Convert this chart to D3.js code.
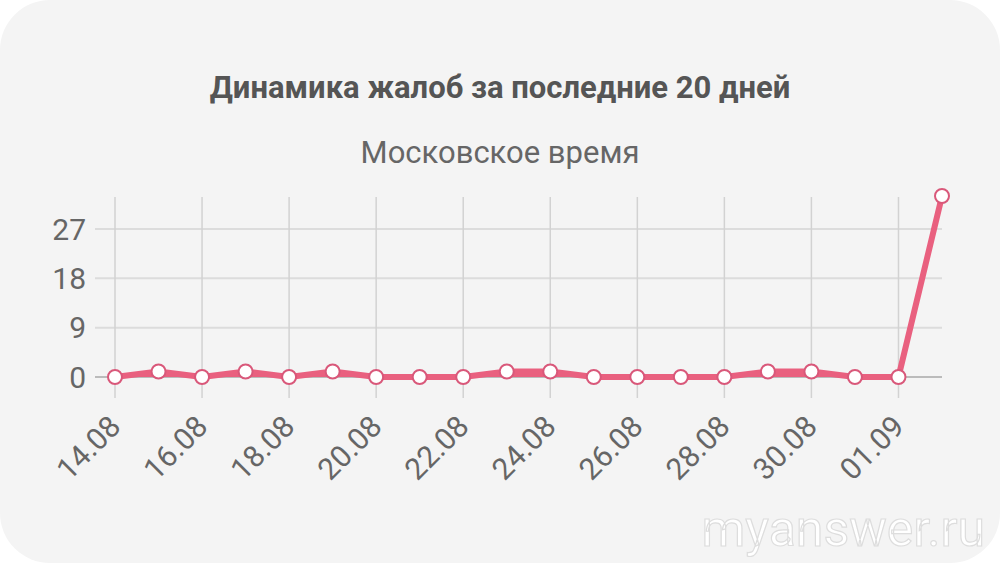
<!DOCTYPE html>
<html>
<head>
<meta charset="utf-8">
<script src="https://cdn.jsdelivr.net/npm/d3@7"></script>
<style>
  body { margin: 0; background: #fff; }
  svg { display: block; font-family: Roboto, "Noto Sans", sans-serif; }
</style>
</head>
<body>
<div id="vis"></div>
<script>
var dates = ["14.08", "15.08", "16.08", "17.08", "18.08", "19.08", "20.08", "21.08", "22.08", "23.08",
             "24.08", "25.08", "26.08", "27.08", "28.08", "29.08", "30.08", "31.08", "01.09", "02.09"];
var complaints = [0, 1, 0, 1, 0, 1, 0, 0, 0, 1, 1, 0, 0, 0, 0, 1, 1, 0, 0, 33];
var yTicks = [0, 9, 18, 27];
var xLabels = ["14.08", "16.08", "18.08", "20.08", "22.08", "24.08", "26.08", "28.08", "30.08", "01.09"];

var width = 1000, height = 563;
var pink = "#e9607f";

var svg = d3.select("#vis").append("svg")
    .attr("width", width)
    .attr("height", height);

// card
svg.append("rect")
    .attr("x", 0).attr("y", 0)
    .attr("width", width).attr("height", height)
    .attr("rx", 50).attr("ry", 50)
    .attr("fill", "#f4f4f4");

svg.append("text")
    .attr("x", 500).attr("y", 98)
    .attr("text-anchor", "middle")
    .attr("font-size", "31px")
    .attr("font-weight", "bold")
    .attr("fill", "#555")
    .text("Динамика жалоб за последние 20 дней");

svg.append("text")
    .attr("x", 500).attr("y", 163)
    .attr("text-anchor", "middle")
    .attr("font-size", "31px")
    .attr("fill", "#666")
    .text("Московское время");

var x = d3.scalePoint()
    .domain(dates)
    .range([115, 942]);

var y = d3.scaleLinear()
    .domain([0, 33])
    .range([377, 196]);

// horizontal grid
svg.append("g")
    .attr("class", "y-grid")
    .selectAll("line")
    .data(yTicks)
    .enter().append("line")
    .attr("x1", 95)
    .attr("x2", 942)
    .attr("y1", function(d) { return y(d); })
    .attr("y2", function(d) { return y(d); })
    .attr("stroke", function(d) { return d === 0 ? "#bbb" : "#dcdcdc"; })
    .attr("stroke-width", 2);

// vertical grid
svg.append("g")
    .attr("class", "x-grid")
    .selectAll("line")
    .data(xLabels)
    .enter().append("line")
    .attr("x1", function(d) { return x(d); })
    .attr("x2", function(d) { return x(d); })
    .attr("y1", 197)
    .attr("y2", 398)
    .attr("stroke", "#d2d2d2")
    .attr("stroke-width", 1.5);

// y labels
svg.append("g")
    .selectAll("text")
    .data(yTicks)
    .enter().append("text")
    .attr("x", 86)
    .attr("y", function(d) { return y(d); })
    .attr("dy", "0.36em")
    .attr("text-anchor", "end")
    .attr("font-size", "30px")
    .attr("fill", "#666")
    .text(function(d) { return d; });

// x labels, rotated
svg.append("g")
    .selectAll("text")
    .data(xLabels)
    .enter().append("text")
    .attr("transform", function(d) { return "translate(" + x(d) + ",421) rotate(-45)"; })
    .attr("text-anchor", "end")
    .attr("dy", "0.35em")
    .attr("font-size", "30px")
    .attr("fill", "#666")
    .text(function(d) { return d; });

// fill under the low part of the line (the spike itself is not filled)
var area = d3.area()
    .x(function(d, i) { return x(dates[i]); })
    .y0(y(0))
    .y1(function(d) { return y(d); });

var line = d3.line()
    .x(function(d, i) { return x(dates[i]); })
    .y(function(d) { return y(d); });

svg.append("path")
    .datum(complaints.slice(0, complaints.length - 1))
    .attr("d", area)
    .attr("fill", pink);

svg.append("path")
    .datum(complaints)
    .attr("d", line)
    .attr("fill", "none")
    .attr("stroke", pink)
    .attr("stroke-width", 6)
    .attr("stroke-linejoin", "round");

svg.append("g")
    .selectAll("circle")
    .data(complaints)
    .enter().append("circle")
    .attr("cx", function(d, i) { return x(dates[i]); })
    .attr("cy", function(d) { return y(d); })
    .attr("r", 7)
    .attr("fill", "#fff")
    .attr("stroke", "#d9587a")
    .attr("stroke-width", 2);

// watermark
svg.append("text")
    .attr("x", 985).attr("y", 546)
    .attr("text-anchor", "end")
    .attr("font-size", "50px")
    .attr("fill", "#fff")
    .attr("stroke", "#ddd")
    .attr("stroke-width", 1.2)
    .text("myanswer.ru");
</script>
</body>
</html>
